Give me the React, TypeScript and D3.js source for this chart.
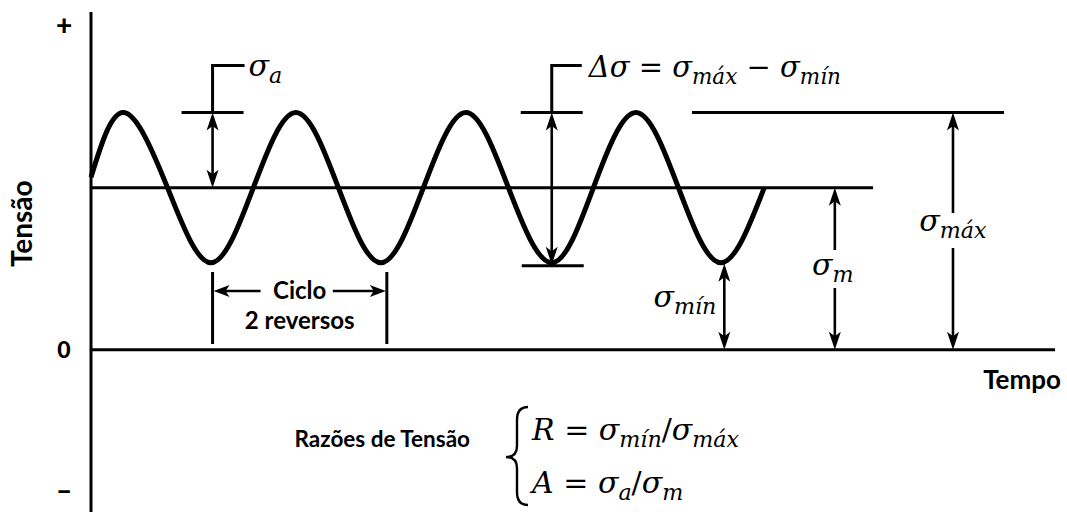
import React from "react";
import * as d3 from "d3";

const W = 1067;
const H = 512;

// Stress levels, in units of the stress amplitude
const SIGMA_M = 2.16;
const SIGMA_A = 1.0;
const SIGMA_MAX = SIGMA_M + SIGMA_A;
const SIGMA_MIN = SIGMA_M - SIGMA_A;

// Cyclic loading: key points of the stress history (time in half-cycles)
const waveTime = [0, 0.39, 0.9, 1.41, 1.91, 2.41, 2.91, 3.41, 3.91, 4.41, 4.91, 5.42, 5.91, 6.41, 6.91, 7.41, 7.92];
const waveStress = [2.3, 3.16, 2.16, 1.16, 2.16, 3.16, 2.16, 1.16, 2.16, 3.16, 2.16, 1.16, 2.16, 3.16, 2.16, 1.16, 2.16];

// Reference lines (time extents)
const TIME_END = 11.34;
const MEAN_LINE_END = 9.2;
const MAX_LINE = [7.07, 10.74];

// Where the dimension arrows sit (time)
const T_SIGMA_A = 1.43;
const T_DELTA = 5.42;
const T_SIGMA_MIN = 7.45;
const T_SIGMA_M = 8.75;
const T_SIGMA_MAX = 10.14;
const CYCLE = [1.43, 3.48];

// Axis sign labels
const axisLabels = ["+", "0", "\u2013"];
const axisLabelStress = [4.33, 0, -1.87];

const x = d3.scaleLinear().domain([0, TIME_END]).range([91, 1055]);
const y = d3.scaleLinear().domain([-2.16, 4.5]).range([512, 12]);

const MATH_FONT = "'DejaVu Serif', serif";
const TEXT_FONT = "Lato, 'Open Sans', sans-serif";

type Dir = "up" | "down" | "left" | "right";

function head(px: number, py: number, dir: Dir, len = 18, half = 6) {
  const notch = len * 0.75;
  const pts: [number, number][] = [
    [0, 0],
    [-half, len],
    [0, notch],
    [half, len],
  ];
  const rot = (p: [number, number]): [number, number] => {
    const [a, b] = p;
    if (dir === "up") return [px + a, py + b];
    if (dir === "down") return [px + a, py - b];
    if (dir === "left") return [px + b, py + a];
    return [px - b, py + a];
  };
  return "M" + pts.map((p) => rot(p).join(",")).join("L") + "Z";
}

function VArrow({ cx, y1, y2, gap }: { cx: number; y1: number; y2: number; gap?: [number, number] }) {
  const segs: [number, number][] = gap ? [[y1 + 8, gap[0]], [gap[1], y2 - 8]] : [[y1 + 8, y2 - 8]];
  return (
    <g>
      {segs.map((s, i) => (
        <line key={i} x1={cx} x2={cx} y1={s[0]} y2={s[1]} stroke="#000" strokeWidth={2.6} />
      ))}
      <path d={head(cx, y1, "up")} fill="#000" />
      <path d={head(cx, y2, "down")} fill="#000" />
    </g>
  );
}

type Part = { t: string; sub?: boolean; up?: boolean };

function MathText({ px, py, parts, size, anchor = "start" }: { px: number; py: number; parts: Part[]; size: number; anchor?: string }) {
  const shift = size * 0.24;
  let lowered = false;
  return (
    <text x={px} y={py} fontFamily={MATH_FONT} fontSize={size} fontStyle="italic" textAnchor={anchor} fill="#000">
      {parts.map((p, i) => {
        let dy = 0;
        if (p.sub && !lowered) {
          dy = shift;
          lowered = true;
        } else if (!p.sub && lowered) {
          dy = -shift;
          lowered = false;
        }
        return (
          <tspan key={i} dy={dy} fontSize={p.sub ? size * 0.74 : size} fontStyle={p.up ? "normal" : "italic"}>
            {p.t}
          </tspan>
        );
      })}
    </text>
  );
}

export default function App() {
  const wave = d3
    .line<number>()
    .x((_, i) => x(waveTime[i]))
    .y((d) => y(d))
    .curve(d3.curveNatural)(waveStress) as string;

  const y0 = y(0);
  const yM = y(SIGMA_M);
  const yMax = y(SIGMA_MAX);
  const yMin = y(SIGMA_MIN);

  const xa = x(T_SIGMA_A);
  const xd = x(T_DELTA);
  const xc1 = x(CYCLE[0]);
  const xc2 = x(CYCLE[1]);
  const yCyc = 291;

  return (
    <svg width={W} height={H} style={{ position: "absolute", left: 0, top: 0, background: "#fff" }}>
      <rect width={W} height={H} fill="#fff" />

      {/* axes */}
      <line x1={x(0)} x2={x(0)} y1={y(4.5)} y2={H} stroke="#000" strokeWidth={3} />
      <line x1={x(0)} x2={x(TIME_END)} y1={y0} y2={y0} stroke="#000" strokeWidth={3} />
      {axisLabels.map((l, i) => (
        <text key={l} x={64} y={y(axisLabelStress[i])} dy="0.36em" textAnchor="middle" fontFamily={TEXT_FONT} fontWeight={900} fontSize={i === 1 ? 23 : 28} fill="#000">
          {l}
        </text>
      ))}
      <text transform={`translate(32,${y(1.68)}) rotate(-90)`} textAnchor="middle" fontFamily={TEXT_FONT} fontWeight={700} fontSize={28} fill="#000">
        Tensão
      </text>
      <text x={1061} y={389} textAnchor="end" fontFamily={TEXT_FONT} fontWeight={700} fontSize={26} fill="#000">
        Tempo
      </text>

      {/* mean and max reference lines */}
      <line x1={x(0)} x2={x(MEAN_LINE_END)} y1={yM} y2={yM} stroke="#000" strokeWidth={3} />
      <line x1={x(MAX_LINE[0])} x2={x(MAX_LINE[1])} y1={yMax} y2={yMax} stroke="#000" strokeWidth={3} />

      {/* stress history */}
      <path d={wave} fill="none" stroke="#000" strokeWidth={5} strokeLinejoin="round" />

      {/* sigma_a */}
      <line x1={xa - 31} x2={xa + 31} y1={yMax} y2={yMax} stroke="#000" strokeWidth={3} />
      <path d={`M${xa},${yMax} V${yMax - 47} H${xa + 32}`} fill="none" stroke="#000" strokeWidth={3} />
      <VArrow cx={xa} y1={yMax} y2={yM} />
      <MathText px={xa + 36} py={76} size={30} parts={[{ t: "σ" }, { t: "a", sub: true }]} />

      {/* delta sigma */}
      <line x1={xd - 31} x2={xd + 31} y1={yMax} y2={yMax} stroke="#000" strokeWidth={3} />
      <line x1={xd - 30} x2={xd + 32} y1={yMin + 3} y2={yMin + 3} stroke="#000" strokeWidth={3} />
      <path d={`M${xd},${yMax} V${yMax - 47} H${xd + 30}`} fill="none" stroke="#000" strokeWidth={3} />
      <VArrow cx={xd} y1={yMax} y2={yMin + 2} />
      <MathText
        px={xd + 37}
        py={77}
        size={29}
        parts={[
          { t: "Δσ" },
          { t: " = ", up: true },
          { t: "σ" },
          { t: "máx", sub: true },
          { t: " − ", up: true },
          { t: "σ" },
          { t: "mín", sub: true },
        ]}
      />

      {/* cycle */}
      <line x1={xc1} x2={xc1} y1={272} y2={344} stroke="#000" strokeWidth={3} />
      <line x1={xc2} x2={xc2} y1={272} y2={344} stroke="#000" strokeWidth={3} />
      <line x1={xc1 + 10} x2={xc1 + 48} y1={yCyc} y2={yCyc} stroke="#000" strokeWidth={2.6} />
      <path d={head(xc1 + 1, yCyc, "left", 16, 6)} fill="#000" />
      <line x1={xc2 - 54} x2={xc2 - 10} y1={yCyc} y2={yCyc} stroke="#000" strokeWidth={2.6} />
      <path d={head(xc2 - 1, yCyc, "right", 16, 6)} fill="#000" />
      <text x={(xc1 + xc2) / 2} y={299} textAnchor="middle" fontFamily={TEXT_FONT} fontWeight={700} fontSize={24} fill="#000">
        Ciclo
      </text>
      <text x={(xc1 + xc2) / 2} y={329} textAnchor="middle" fontFamily={TEXT_FONT} fontWeight={700} fontSize={24} fill="#000">
        2 reversos
      </text>

      {/* sigma_min, sigma_m, sigma_max */}
      <VArrow cx={x(T_SIGMA_MIN)} y1={yMin + 1} y2={y0} />
      <MathText px={x(T_SIGMA_MIN) - 8} py={307} size={30} anchor="end" parts={[{ t: "σ" }, { t: "mín", sub: true }]} />
      <VArrow cx={x(T_SIGMA_M)} y1={yM} y2={y0} gap={[250, 288]} />
      <MathText px={x(T_SIGMA_M) - 2} py={275} size={30} anchor="middle" parts={[{ t: "σ" }, { t: "m", sub: true }]} />
      <VArrow cx={x(T_SIGMA_MAX)} y1={yMax} y2={y0} gap={[213, 248]} />
      <MathText px={x(T_SIGMA_MAX)} py={231} size={30} anchor="middle" parts={[{ t: "σ" }, { t: "máx", sub: true }]} />

      {/* stress ratios */}
      <text x={470} y={447} textAnchor="end" fontFamily={TEXT_FONT} fontWeight={700} fontSize={22.5} fill="#000">
        Razões de Tensão
      </text>
      <path
        d="M528,407 Q517,407 517,420 L517,446 Q517,457 506,457 Q517,457 517,468 L517,492 Q517,505 528,505"
        fill="none"
        stroke="#000"
        strokeWidth={2.4}
      />
      <MathText
        px={532}
        py={440}
        size={30}
        parts={[{ t: "R" }, { t: " = ", up: true }, { t: "σ" }, { t: "mín", sub: true }, { t: "/", up: true }, { t: "σ" }, { t: "máx", sub: true }]}
      />
      <MathText
        px={532}
        py={493}
        size={30}
        parts={[{ t: "A" }, { t: " = ", up: true }, { t: "σ" }, { t: "a", sub: true }, { t: "/", up: true }, { t: "σ" }, { t: "m", sub: true }]}
      />
    </svg>
  );
}
